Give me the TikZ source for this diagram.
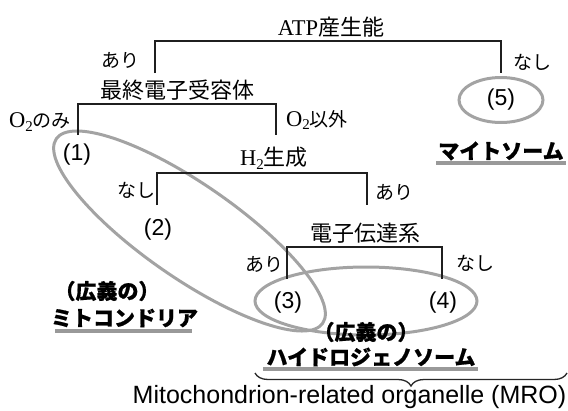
\documentclass[tikz,border=0pt]{standalone}
\usepackage{fontspec}
\setmainfont{Liberation Serif}
\newfontfamily\jp{Noto Sans CJK JP}
\newfontfamily\jpheavy{Noto Sans CJK JP}[BoldFeatures={FakeBold=0.7}]
\newfontfamily\sanslatin{Liberation Sans}
\usetikzlibrary{decorations.pathreplacing}

% Latin letters set in the serif face, with a lowered two
\newcommand\serifchar[1]{{\rmfamily\fontsize{22.5}{24}\selectfont #1}}
\newcommand\lowtwo{\raisebox{-0.35ex}{\rmfamily\fontsize{15}{15}\selectfont 2}}

\tikzset{
  branch/.style={draw=black!88, line width=2pt, line join=miter},
  group/.style={draw=black!36, line width=3pt},
  rulebar/.style={draw=black!40, line width=4pt},
  title/.style={inner sep=0pt, font=\jp\fontsize{22}{24}\selectfont},
  answer/.style={inner sep=0pt, font=\jp\fontsize{19}{21}\selectfont},
  leaf/.style={inner sep=0pt, font=\sanslatin\fontsize{23}{25}\selectfont},
  organelle/.style={inner sep=0pt, font=\jpheavy\bfseries\fontsize{21}{23}\selectfont},
}

\begin{document}
\begin{tikzpicture}[x=1pt,y=-1pt]
\useasboundingbox (0,0) rectangle (568,410);

% groupings
\draw[group] (501,100) ellipse [x radius=42, y radius=22.5];
\draw[group] (366,301) ellipse [x radius=111, y radius=34];
\draw[group, shift={(189.5,231)}, rotate=-34.7] (0,0) ellipse [x radius=162, y radius=47];

% bracket ends
\coordinate (atpL) at (155,73);  \coordinate (atpR) at (501,73);
\coordinate (finL) at (78,135);  \coordinate (finR) at (276,135);
\coordinate (htwoL) at (157,205); \coordinate (htwoR) at (367,205);
\coordinate (etcL) at (287,279); \coordinate (etcR) at (442,279);

\draw[branch] (atpL) -- ++(0,-32) -| (atpR);
\draw[branch] (finL) -- ++(0,-31) -| (finR);
\draw[branch] (htwoL) -- ++(0,-32) -| (htwoR);
\draw[branch] (etcL) -- ++(0,-32) -| (etcR);

% criteria
\node[title] (atp)  at (331,27)  {\serifchar{ATP}産生能};
\node[title] (fin)  at (177,90)  {最終電子受容体};
\node[title] (htwo) at (274,158) {\serifchar{H}\lowtwo 生成};
\node[title] (etc)  at (365,233) {電子伝達系};

% answers
\node[answer] (a1) at (120,60)  {あり};
\node[answer] (a2) at (532,62)  {なし};
\node[answer] (a3) at (40,122)  {\serifchar{O}\lowtwo のみ};
\node[answer] (a4) at (317,120) {\serifchar{O}\lowtwo 以外};
\node[answer] (a5) at (136,190) {なし};
\node[answer] (a6) at (394,192) {あり};
\node[answer] (a7) at (264,264) {あり};
\node[answer] (a8) at (475,263) {なし};

% numbered types
\node[leaf] (n1) at (77,155)  {(1)};
\node[leaf] (n2) at (158,230) {(2)};
\node[leaf] (n3) at (288,303) {(3)};
\node[leaf] (n4) at (443,303) {(4)};
\node[leaf] (n5) at (501,100) {(5)};

% organelle names
\node[organelle] (mitoA) at (107,291) {（広義の）};
\node[organelle] (mitoB) at (124.5,318) {ミトコンドリア};
\node[organelle] (hydA) at (366,332) {（広義の）};
\node[organelle] (hydB) at (371,357) {ハイドロジェノソーム};
\node[organelle] (mitosome) at (501,151) {マイトソーム};

\draw[rulebar] (55,331) -- (192,331);
\draw[rulebar] (263,369) -- (478,369);
\draw[rulebar] (436,163) -- (566,163);

% MRO brace
\coordinate (braceL) at (255,373);
\coordinate (braceR) at (567,373);
\draw[decorate, decoration={brace, amplitude=13pt, mirror}, line width=1.3pt, black!85]
  (braceL) -- (braceR);
\node[inner sep=0pt, font=\sanslatin\fontsize{25}{27}\selectfont] (mro) at (349.5,397)
  {Mitochondrion-related organelle (MRO)};
\end{tikzpicture}
\end{document}
